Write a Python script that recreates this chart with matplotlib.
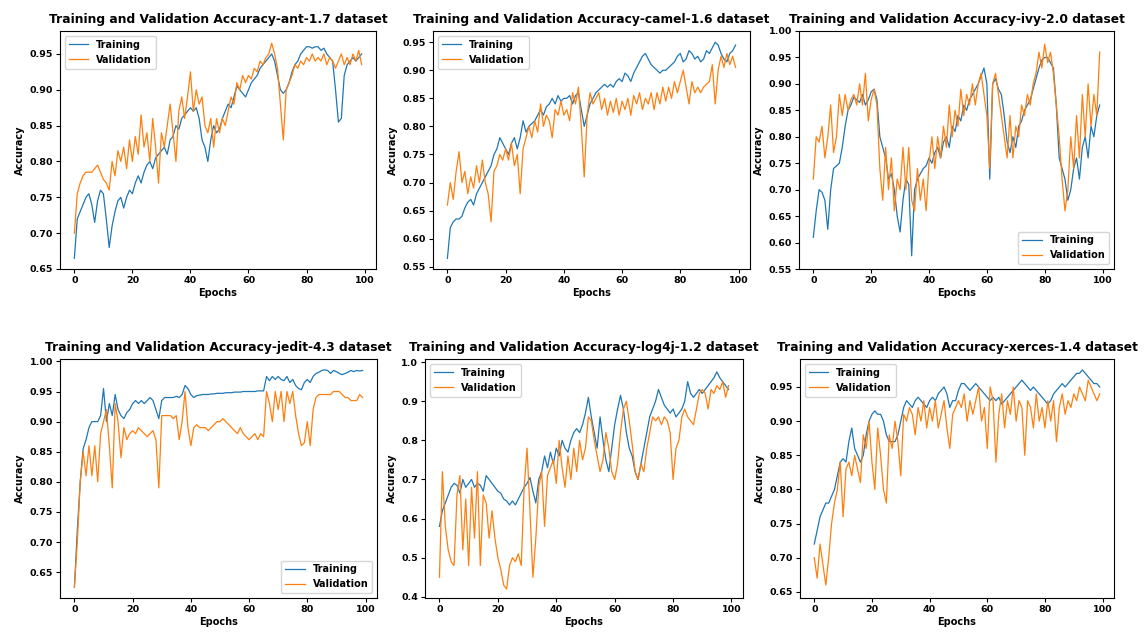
import numpy as np
import matplotlib
matplotlib.use('Agg')
import matplotlib.pyplot as plt

# accuracy per epoch
ant_train = [0.665, 0.72, 0.73, 0.74, 0.75, 0.755, 0.74, 0.715, 0.745, 0.76,
             0.755, 0.72, 0.68, 0.71, 0.73, 0.745, 0.75, 0.735, 0.75, 0.76,
             0.755, 0.77, 0.78, 0.77, 0.785, 0.795, 0.80, 0.79, 0.805, 0.81,
             0.815, 0.82, 0.81, 0.83, 0.835, 0.85, 0.845, 0.86, 0.865, 0.87,
             0.875, 0.87, 0.875, 0.86, 0.83, 0.82, 0.80, 0.83, 0.85, 0.84,
             0.845, 0.86, 0.87, 0.88, 0.875, 0.89, 0.905, 0.90, 0.895, 0.89,
             0.90, 0.91, 0.915, 0.92, 0.93, 0.935, 0.94, 0.945, 0.95, 0.94,
             0.92, 0.90, 0.895, 0.90, 0.91, 0.925, 0.935, 0.94, 0.95, 0.955,
             0.96, 0.96, 0.958, 0.96, 0.96, 0.955, 0.958, 0.95, 0.945, 0.94,
             0.90, 0.855, 0.86, 0.92, 0.935, 0.94, 0.945, 0.94, 0.945, 0.95]
ant_val = [0.70, 0.755, 0.77, 0.78, 0.785, 0.785, 0.785, 0.79, 0.795, 0.785,
           0.775, 0.77, 0.76, 0.80, 0.78, 0.815, 0.80, 0.82, 0.79, 0.83,
           0.80, 0.835, 0.81, 0.865, 0.82, 0.84, 0.80, 0.86, 0.82, 0.77,
           0.84, 0.82, 0.85, 0.88, 0.84, 0.80, 0.87, 0.89, 0.86, 0.89,
           0.925, 0.87, 0.90, 0.88, 0.89, 0.85, 0.84, 0.86, 0.82, 0.86,
           0.84, 0.86, 0.85, 0.87, 0.89, 0.88, 0.91, 0.90, 0.92, 0.91,
           0.92, 0.915, 0.93, 0.925, 0.94, 0.935, 0.945, 0.95, 0.965, 0.95,
           0.93, 0.88, 0.83, 0.90, 0.91, 0.92, 0.935, 0.93, 0.94, 0.935,
           0.945, 0.94, 0.95, 0.94, 0.945, 0.94, 0.95, 0.935, 0.945, 0.94,
           0.93, 0.94, 0.95, 0.935, 0.945, 0.935, 0.95, 0.94, 0.955, 0.935]

camel_train = [0.565, 0.62, 0.63, 0.635, 0.635, 0.64, 0.655, 0.665, 0.67, 0.66,
               0.68, 0.69, 0.70, 0.71, 0.72, 0.73, 0.75, 0.76, 0.78, 0.77,
               0.76, 0.75, 0.77, 0.78, 0.76, 0.78, 0.81, 0.79, 0.80, 0.805,
               0.81, 0.82, 0.83, 0.82, 0.835, 0.84, 0.85, 0.84, 0.855, 0.845,
               0.85, 0.85, 0.855, 0.84, 0.855, 0.86, 0.83, 0.80, 0.82, 0.84,
               0.85, 0.86, 0.865, 0.87, 0.875, 0.87, 0.875, 0.87, 0.88, 0.885,
               0.88, 0.895, 0.89, 0.88, 0.895, 0.905, 0.915, 0.925, 0.93, 0.92,
               0.91, 0.905, 0.90, 0.895, 0.90, 0.90, 0.905, 0.91, 0.915, 0.925,
               0.93, 0.915, 0.92, 0.935, 0.93, 0.92, 0.925, 0.915, 0.92, 0.935,
               0.93, 0.94, 0.95, 0.945, 0.93, 0.92, 0.915, 0.93, 0.935, 0.945]
camel_val = [0.66, 0.70, 0.67, 0.72, 0.755, 0.70, 0.72, 0.68, 0.71, 0.69,
             0.73, 0.70, 0.74, 0.70, 0.68, 0.63, 0.72, 0.73, 0.75, 0.74,
             0.76, 0.74, 0.77, 0.73, 0.75, 0.68, 0.76, 0.78, 0.80, 0.78,
             0.81, 0.79, 0.84, 0.80, 0.82, 0.81, 0.78, 0.83, 0.82, 0.845,
             0.82, 0.83, 0.81, 0.86, 0.84, 0.87, 0.80, 0.71, 0.82, 0.86,
             0.84, 0.85, 0.86, 0.83, 0.85, 0.82, 0.845, 0.825, 0.85, 0.82,
             0.845, 0.83, 0.85, 0.82, 0.855, 0.84, 0.86, 0.83, 0.85, 0.84,
             0.86, 0.83, 0.86, 0.84, 0.87, 0.845, 0.87, 0.85, 0.88, 0.86,
             0.88, 0.90, 0.87, 0.84, 0.88, 0.86, 0.87, 0.86, 0.87, 0.875,
             0.88, 0.91, 0.84, 0.90, 0.925, 0.905, 0.93, 0.91, 0.925, 0.905]

ivy_train = [0.61, 0.66, 0.70, 0.695, 0.68, 0.625, 0.70, 0.74, 0.745, 0.75,
             0.78, 0.82, 0.85, 0.86, 0.875, 0.87, 0.865, 0.88, 0.86, 0.87,
             0.885, 0.89, 0.87, 0.80, 0.78, 0.76, 0.72, 0.73, 0.70, 0.65,
             0.62, 0.68, 0.72, 0.71, 0.575, 0.70, 0.72, 0.73, 0.74, 0.745,
             0.76, 0.75, 0.77, 0.78, 0.76, 0.79, 0.80, 0.78, 0.82, 0.81,
             0.84, 0.83, 0.86, 0.85, 0.87, 0.88, 0.89, 0.90, 0.915, 0.93,
             0.90, 0.72, 0.90, 0.91, 0.89, 0.88, 0.84, 0.79, 0.77, 0.80,
             0.78, 0.82, 0.83, 0.85, 0.86, 0.87, 0.89, 0.91, 0.93, 0.945,
             0.95, 0.95, 0.94, 0.93, 0.86, 0.76, 0.74, 0.72, 0.68, 0.70,
             0.74, 0.76, 0.72, 0.78, 0.80, 0.76, 0.82, 0.80, 0.84, 0.86]
ivy_val = [0.72, 0.80, 0.79, 0.82, 0.76, 0.80, 0.86, 0.77, 0.80, 0.88,
           0.84, 0.88, 0.85, 0.87, 0.88, 0.86, 0.90, 0.86, 0.92, 0.83,
           0.87, 0.89, 0.86, 0.74, 0.68, 0.78, 0.70, 0.76, 0.66, 0.72,
           0.70, 0.78, 0.70, 0.78, 0.68, 0.66, 0.74, 0.68, 0.72, 0.66,
           0.75, 0.80, 0.74, 0.80, 0.76, 0.82, 0.78, 0.86, 0.80, 0.85,
           0.82, 0.89, 0.84, 0.88, 0.86, 0.90, 0.86, 0.90, 0.92, 0.88,
           0.84, 0.74, 0.90, 0.92, 0.88, 0.84, 0.80, 0.76, 0.84, 0.76,
           0.82, 0.80, 0.86, 0.84, 0.88, 0.86, 0.90, 0.92, 0.96, 0.93,
           0.975, 0.94, 0.96, 0.92, 0.86, 0.80, 0.72, 0.66, 0.70, 0.80,
           0.74, 0.84, 0.76, 0.88, 0.80, 0.90, 0.82, 0.88, 0.84, 0.96]

jedit_train = [0.625, 0.72, 0.80, 0.855, 0.87, 0.89, 0.90, 0.90, 0.90, 0.91,
               0.955, 0.90, 0.93, 0.91, 0.945, 0.92, 0.91, 0.905, 0.915, 0.92,
               0.93, 0.935, 0.93, 0.935, 0.93, 0.935, 0.94, 0.935, 0.92, 0.905,
               0.935, 0.94, 0.94, 0.94, 0.94, 0.942, 0.94, 0.945, 0.96, 0.955,
               0.945, 0.94, 0.943, 0.944, 0.945, 0.945, 0.945, 0.946, 0.946, 0.947,
               0.947, 0.947, 0.948, 0.948, 0.948, 0.949, 0.949, 0.949, 0.95, 0.95,
               0.95, 0.95, 0.95, 0.951, 0.951, 0.951, 0.975, 0.968, 0.975, 0.97,
               0.975, 0.97, 0.968, 0.975, 0.965, 0.97, 0.96, 0.955, 0.953, 0.965,
               0.97, 0.965, 0.975, 0.98, 0.982, 0.985, 0.986, 0.985, 0.98, 0.985,
               0.983, 0.98, 0.978, 0.98, 0.982, 0.985, 0.983, 0.985, 0.984, 0.985]
jedit_val = [0.625, 0.70, 0.80, 0.85, 0.81, 0.86, 0.81, 0.86, 0.80, 0.88,
             0.90, 0.92, 0.86, 0.79, 0.93, 0.90, 0.84, 0.89, 0.87, 0.88,
             0.885, 0.88, 0.89, 0.885, 0.88, 0.875, 0.88, 0.885, 0.87, 0.79,
             0.91, 0.91, 0.91, 0.91, 0.905, 0.91, 0.87, 0.90, 0.95, 0.89,
             0.86, 0.89, 0.895, 0.89, 0.89, 0.89, 0.885, 0.89, 0.895, 0.90,
             0.90, 0.905, 0.90, 0.895, 0.89, 0.885, 0.88, 0.89, 0.88, 0.875,
             0.87, 0.875, 0.88, 0.87, 0.88, 0.875, 0.95, 0.93, 0.90, 0.95,
             0.92, 0.95, 0.90, 0.95, 0.93, 0.95, 0.91, 0.88, 0.86, 0.865,
             0.90, 0.86, 0.92, 0.94, 0.945, 0.945, 0.945, 0.945, 0.945, 0.95,
             0.95, 0.95, 0.945, 0.94, 0.94, 0.935, 0.935, 0.935, 0.945, 0.94]

log4j_train = [0.58, 0.62, 0.64, 0.66, 0.68, 0.69, 0.685, 0.665, 0.70, 0.68,
               0.69, 0.70, 0.68, 0.69, 0.685, 0.67, 0.71, 0.70, 0.69, 0.68,
               0.67, 0.665, 0.65, 0.645, 0.635, 0.645, 0.635, 0.65, 0.665, 0.68,
               0.69, 0.705, 0.67, 0.64, 0.70, 0.72, 0.76, 0.73, 0.77, 0.74,
               0.78, 0.76, 0.80, 0.78, 0.77, 0.80, 0.82, 0.83, 0.82, 0.84,
               0.87, 0.91, 0.86, 0.82, 0.78, 0.86, 0.80, 0.75, 0.72, 0.78,
               0.84, 0.88, 0.915, 0.88, 0.82, 0.78, 0.76, 0.72, 0.70, 0.74,
               0.78, 0.82, 0.86, 0.88, 0.90, 0.93, 0.91, 0.89, 0.88, 0.87,
               0.88, 0.86, 0.87, 0.88, 0.90, 0.95, 0.92, 0.91, 0.92, 0.93,
               0.92, 0.93, 0.94, 0.95, 0.96, 0.975, 0.96, 0.95, 0.94, 0.93]
log4j_val = [0.45, 0.72, 0.58, 0.52, 0.49, 0.48, 0.66, 0.71, 0.52, 0.65,
             0.48, 0.68, 0.55, 0.72, 0.48, 0.66, 0.64, 0.55, 0.62, 0.55,
             0.50, 0.47, 0.43, 0.42, 0.48, 0.50, 0.49, 0.51, 0.48, 0.68,
             0.78, 0.62, 0.45, 0.55, 0.68, 0.72, 0.58, 0.71, 0.73, 0.75,
             0.69, 0.80, 0.73, 0.68, 0.76, 0.70, 0.78, 0.72, 0.80, 0.75,
             0.78, 0.86, 0.85, 0.80, 0.76, 0.72, 0.75, 0.82, 0.78, 0.72,
             0.70, 0.74, 0.82, 0.88, 0.90, 0.85, 0.79, 0.72, 0.70, 0.74,
             0.72, 0.78, 0.82, 0.86, 0.85, 0.86, 0.84, 0.86, 0.85, 0.82,
             0.70, 0.78, 0.80, 0.86, 0.88, 0.86, 0.85, 0.84, 0.88, 0.92,
             0.93, 0.92, 0.88, 0.93, 0.92, 0.94, 0.93, 0.95, 0.91, 0.94]

xerces_train = [0.72, 0.74, 0.76, 0.77, 0.78, 0.78, 0.79, 0.80, 0.82, 0.84,
                0.845, 0.84, 0.87, 0.89, 0.86, 0.85, 0.84, 0.85, 0.88, 0.90,
                0.91, 0.915, 0.91, 0.91, 0.90, 0.88, 0.87, 0.87, 0.87, 0.88,
                0.90, 0.92, 0.93, 0.925, 0.92, 0.93, 0.935, 0.93, 0.925, 0.92,
                0.93, 0.935, 0.93, 0.94, 0.945, 0.95, 0.94, 0.92, 0.93, 0.93,
                0.945, 0.955, 0.955, 0.95, 0.945, 0.95, 0.955, 0.95, 0.945, 0.94,
                0.935, 0.93, 0.935, 0.93, 0.935, 0.925, 0.93, 0.935, 0.94, 0.945,
                0.95, 0.955, 0.96, 0.955, 0.95, 0.945, 0.95, 0.945, 0.94, 0.935,
                0.93, 0.925, 0.93, 0.94, 0.945, 0.95, 0.955, 0.95, 0.955, 0.96,
                0.965, 0.97, 0.97, 0.975, 0.97, 0.965, 0.96, 0.955, 0.955, 0.95]
xerces_val = [0.70, 0.67, 0.72, 0.69, 0.66, 0.70, 0.75, 0.78, 0.80, 0.84,
              0.76, 0.83, 0.84, 0.82, 0.85, 0.83, 0.81, 0.88, 0.86, 0.90,
              0.84, 0.80, 0.89, 0.85, 0.80, 0.78, 0.88, 0.86, 0.90, 0.87,
              0.82, 0.91, 0.90, 0.92, 0.91, 0.88, 0.92, 0.90, 0.93, 0.89,
              0.92, 0.90, 0.93, 0.89, 0.91, 0.93, 0.89, 0.86, 0.91, 0.92,
              0.93, 0.92, 0.94, 0.90, 0.93, 0.91, 0.93, 0.95, 0.90, 0.92,
              0.86, 0.95, 0.93, 0.84, 0.91, 0.94, 0.89, 0.93, 0.91, 0.95,
              0.90, 0.93, 0.92, 0.85, 0.93, 0.92, 0.89, 0.94, 0.90, 0.92,
              0.89, 0.93, 0.90, 0.93, 0.87, 0.92, 0.94, 0.91, 0.93, 0.92,
              0.94, 0.93, 0.95, 0.94, 0.93, 0.96, 0.95, 0.94, 0.93, 0.94]

datasets = ['ant-1.7', 'camel-1.6', 'ivy-2.0', 'jedit-4.3', 'log4j-1.2', 'xerces-1.4']
train_series = [ant_train, camel_train, ivy_train, jedit_train, log4j_train, xerces_train]
val_series = [ant_val, camel_val, ivy_val, jedit_val, log4j_val, xerces_val]
legend_locs = ['upper left', 'upper left', 'lower right',
               'lower right', 'upper left', 'upper left']
y_limits = [(0.65, 0.982), (0.546, 0.97), (0.55, 1.0),
            (0.607, 1.004), (0.397, 1.008), (0.641, 0.991)]

# axes boxes in pixels (left, top, right, bottom) measured on the 1148x632 reference
W, H = 1148, 632
boxes = [(60, 31, 376, 269), (433, 31, 750, 269), (799, 31, 1114, 269),
         (60, 359, 377, 598), (425, 359, 743, 598), (800, 359, 1114, 598)]

fig = plt.figure(figsize=(W / 100, H / 100), dpi=100)

for name, tr, va, loc, ylim, (l, t, r, b) in zip(datasets, train_series, val_series,
                                                  legend_locs, y_limits, boxes):
    ax = fig.add_axes([l / W, (H - b) / H, (r - l) / W, (b - t) / H])
    epochs = np.arange(len(tr))
    ax.plot(epochs, tr, color='C0', linewidth=0.9, label='Training')
    ax.plot(np.arange(len(va)), va, color='C1', linewidth=0.9, label='Validation')
    ax.set_ylim(*ylim)
    ax.set_title(f'Training and Validation Accuracy-{name} dataset',
                 fontsize=8.8, fontweight='bold', pad=6)
    ax.set_xlabel('Epochs', fontsize=7, fontweight='bold', labelpad=2)
    ax.set_ylabel('Accuracy', fontsize=7, fontweight='bold', labelpad=3)
    ax.tick_params(labelsize=6.8, length=3, pad=2)
    for lab in ax.get_xticklabels() + ax.get_yticklabels():
        lab.set_fontweight('bold')
    ax.legend(loc=loc, prop={'size': 7, 'weight': 'bold'})

fig.savefig('out.png', dpi=100)
